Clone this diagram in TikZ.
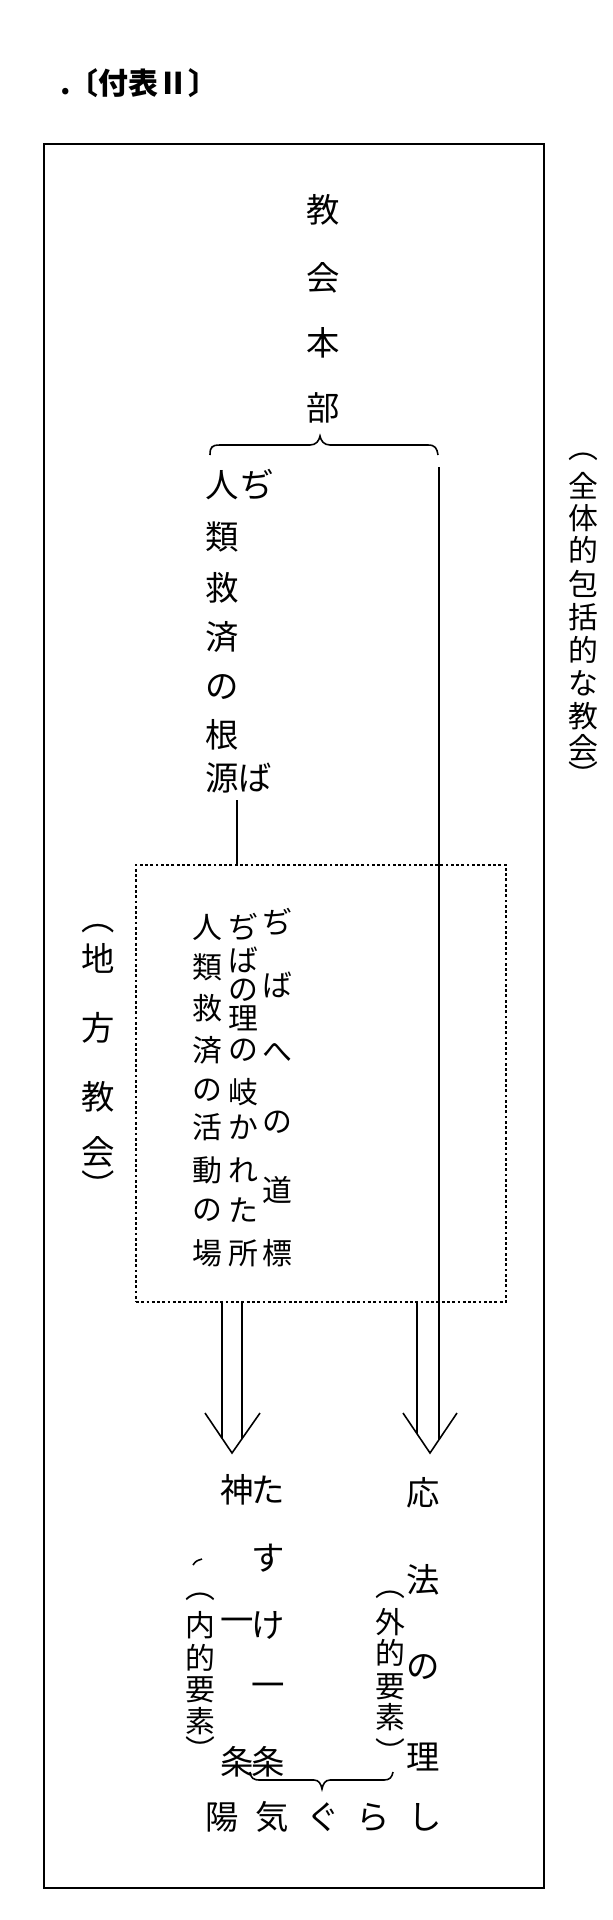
\documentclass[tikz,border=0pt]{standalone}
\usepackage{fontspec}
\newfontfamily\jpfont{Noto Sans CJK JP}
\usetikzlibrary{positioning,calc}

\begin{document}
\begin{tikzpicture}[x=0.02cm, y=-0.02cm,
    kanji/.style={inner sep=0pt, font=\jpfont\fontsize{19}{19}\selectfont},
    small/.style={inner sep=0pt, font=\jpfont\fontsize{17}{17}\selectfont},
    frame/.style={line width=1.2pt},
    link/.style={line width=0.9pt},
    field/.style={draw, line width=0.9pt, dash pattern=on 1.6pt off 1.4pt}
]

\useasboundingbox (0,0) rectangle (612,1920);

% Title
\node[anchor=west, font=\jpfont\bfseries\fontsize{17}{17}\selectfont] (title) at (54,83) {.\kern-1pt〔付表Ⅱ〕};

% Outer frame
\draw[frame] (44,144) rectangle (544,1888);

% Church headquarters
\foreach \c/\y [count=\i] in {教/210,会/278,本/343,部/408}
    \node[kanji] (hq-\i) at (323,\y) {\c};

% Brace under the headquarters
\draw[link] (210,455) .. controls (210,447) and (212,445) .. (220,445) -- (310,445)
    .. controls (316,445) and (319,441) .. (320,436)
    .. controls (321,441) and (324,445) .. (330,445) -- (428,445)
    .. controls (435,445) and (437,448) .. (438,455);

% Source of human salvation
\foreach \c/\y [count=\i] in {人/485,類/537,救/588,済/637,の/687,根/735,源/778}
    \node[kanji] (root-\i) at (222,\y) {\c};
\node[kanji] (root-r1) at (257,485) {ぢ};
\node[kanji] (root-r2) at (255,778) {ば};

% Dotted field
\node[field, minimum width=7.4cm, minimum height=8.74cm] (place) at (321,1083.5) {};

\foreach \c/\y [count=\i] in {人/927,類/967,救/1008,済/1050,の/1090,活/1127,動/1170,の/1210,場/1253}
    \node[small] (act-\i) at (207,\y) {\c};
\foreach \c/\y [count=\i] in {ぢ/927,ば/960,の/990,理/1018,の/1050,岐/1092,か/1127,れ/1170,た/1210,所/1253}
    \node[small] (branch-\i) at (243,\y) {\c};
\foreach \c/\y [count=\i] in {ぢ/922,ば/985,へ/1053,の/1122,道/1190,標/1253}
    \node[small] (guide-\i) at (277,\y) {\c};

% Links
\coordinate (root-end) at (237,800);
\draw[link] (root-end) -- (root-end |- place.north);
\coordinate (hq-end) at (439,467);
\coordinate (law-tip) at (430,1453);
\coordinate (god-tip) at (232,1453);

% Right hollow arrow
\draw[link] (hq-end) -- (439,1440);
\draw[link] (417,0 |- place.south) -- (417,1434);
\draw[link] (403,1413) -- (law-tip) -- (457,1413);

% Left hollow arrow
\draw[link] (222,0 |- place.south) -- (222,1438);
\draw[link] (242,0 |- place.south) -- (242,1439);
\draw[link] (205,1413) -- (god-tip) -- (260,1413);

% Local church
\foreach \c/\y [count=\i] in {︵/929,地/958,方/1028,教/1097,会/1152,︶/1185}
    \node[kanji] (local-\i) at (98,\y) {\c};

% Whole church
\foreach \c/\y [count=\i] in {︵/457,全/486,体/518,的/550,包/584,括/617,的/650,な/683,教/716,会/748,︶/774}
    \node[small] (whole-\i) at (583,\y) {\c};

% Bottom texts
\foreach \c/\y [count=\i] in {神/1490,一/1625,条/1762}
    \node[kanji] (god-\i) at (237,\y) {\c};
\foreach \c/\y [count=\i] in {た/1490,す/1558,け/1625,一/1690,条/1762}
    \node[kanji] (help-\i) at (268,\y) {\c};
\foreach \c/\y [count=\i] in {︵/1597,内/1625,的/1658,要/1690,素/1721,︶/1749}
    \node[small] (inner-\i) at (200,\y) {\c};
\draw[link] (193,1565) .. controls (196,1561) .. (202,1559);

\foreach \c/\y [count=\i] in {応/1493,法/1580,の/1667,理/1757}
    \node[kanji] (law-\i) at (423,\y) {\c};
\foreach \c/\y [count=\i] in {︵/1595,外/1622,的/1653,要/1687,素/1717,︶/1751}
    \node[small] (outer-\i) at (390,\y) {\c};

% Brace over the joyous life
\draw[link] (250,1772) .. controls (251,1778) and (253,1780) .. (260,1780) -- (314,1780)
    .. controls (319,1780) and (321,1784) .. (322,1789)
    .. controls (323,1784) and (325,1780) .. (330,1780) -- (384,1780)
    .. controls (390,1780) and (392,1777) .. (393,1772);

\foreach \c/\x [count=\i] in {陽/222,気/272,ぐ/323,ら/373,し/425}
    \node[kanji] (joy-\i) at (\x,1817) {\c};

\end{tikzpicture}
\end{document}
